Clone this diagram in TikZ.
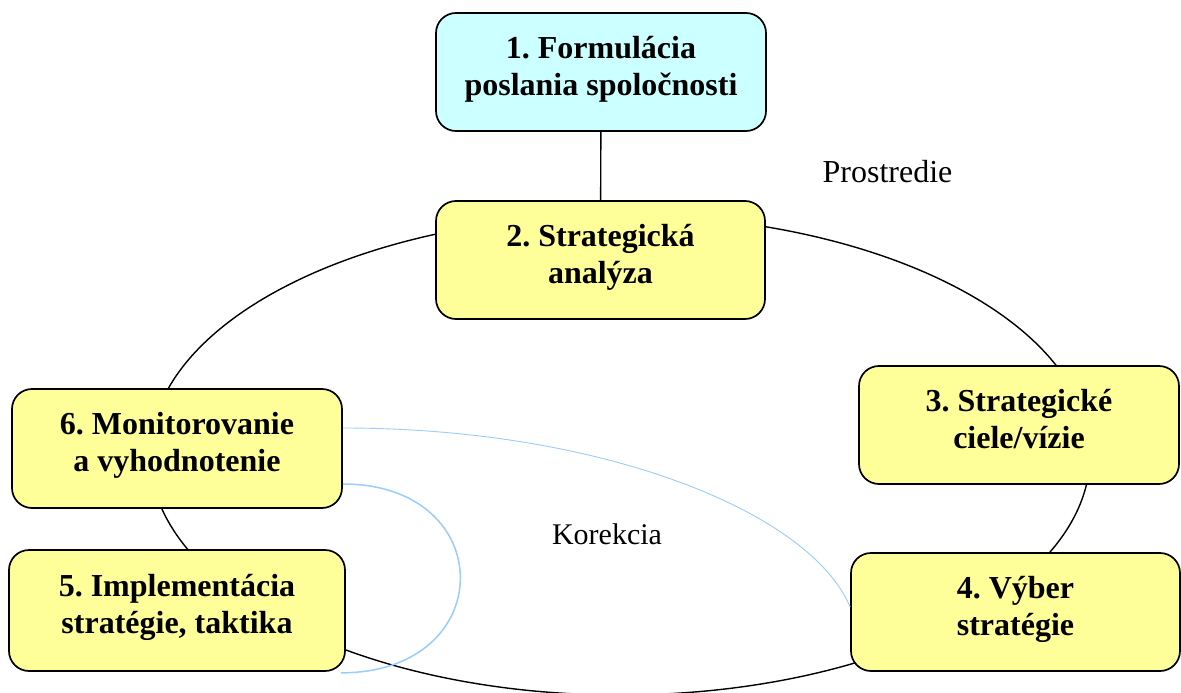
\documentclass[tikz,border=0pt]{standalone}
\usepackage{fontspec}
\setmainfont{Liberation Serif}
\frenchspacing
\definecolor{boxyellow}{RGB}{255,255,153}
\definecolor{boxcyan}{RGB}{204,255,255}
\definecolor{loopblue}{RGB}{153,204,255}
% uniform line struts so every two-line label sits the same way in its box
\newcommand{\lstrut}{\rule[-13pt]{0pt}{35pt}}
\begin{document}
\begin{tikzpicture}[x=1pt,y=-1pt,
  stagebox/.style={draw=black,line width=1.7pt,rounded corners=20pt,
    fill=boxyellow,inner sep=0pt,align=center,
    font=\fontsize{32}{37}\selectfont\bfseries},
  cycleline/.style={draw=black,line width=1.4pt},
  loopline/.style={draw=loopblue,line width=1.5pt},
  plainlabel/.style={font=\fontsize{32}{37}\selectfont,inner sep=0pt,anchor=base}]
\useasboundingbox (0,0) rectangle (1181,693);

% the strategic cycle
\draw[cycleline] (620,455) ellipse [x radius=470, y radius=240];

% stages
\node[stagebox,fill=boxcyan,minimum width=330pt,minimum height=118pt] (b1) at (601,72)
  {\lstrut 1. Formulácia\\\lstrut poslania spoločnosti};
\node[stagebox,minimum width=329pt,minimum height=118pt] (b2) at (600.5,260)
  {\lstrut 2. Strategická\\\lstrut analýza};
\draw[cycleline] (b1) -- (b2);
\node[stagebox,minimum width=320pt,minimum height=118pt] (b3) at (1019,425)
  {\lstrut 3. Strategické\\\lstrut ciele/vízie};
\node[stagebox,minimum width=329pt,minimum height=118pt] (b4) at (1015.5,612)
  {\lstrut 4. Výber\\\lstrut stratégie};
\node[stagebox,minimum width=336pt,minimum height=121pt] (b5) at (177,610.5)
  {\lstrut 5. Implementácia\\\lstrut stratégie, taktika};
\node[stagebox,minimum width=330pt,minimum height=119pt] (b6) at (177,448.5)
  {\lstrut 6. Monitorovanie\\\lstrut a vyhodnotenie};

% correction loops
\draw[loopblue,line width=0.9pt] ([yshift=20.5pt]b6.east)
  .. controls +(260,0) and +(-40,-95) .. ([yshift=5pt]b4.west);
\coordinate (loopend) at ([xshift=-5pt,yshift=-1pt]b5.south east);
\draw[loopline] ([yshift=-35.5pt]b6.east)
  .. controls +(157,0) and +(159,0) .. (loopend);

% free labels
\node[plainlabel] (env) at (887.5,182) {Prostredie};
\node[plainlabel,font=\fontsize{30}{36}\selectfont] (kor) at (607,544) {Korekcia};
\end{tikzpicture}
\end{document}
